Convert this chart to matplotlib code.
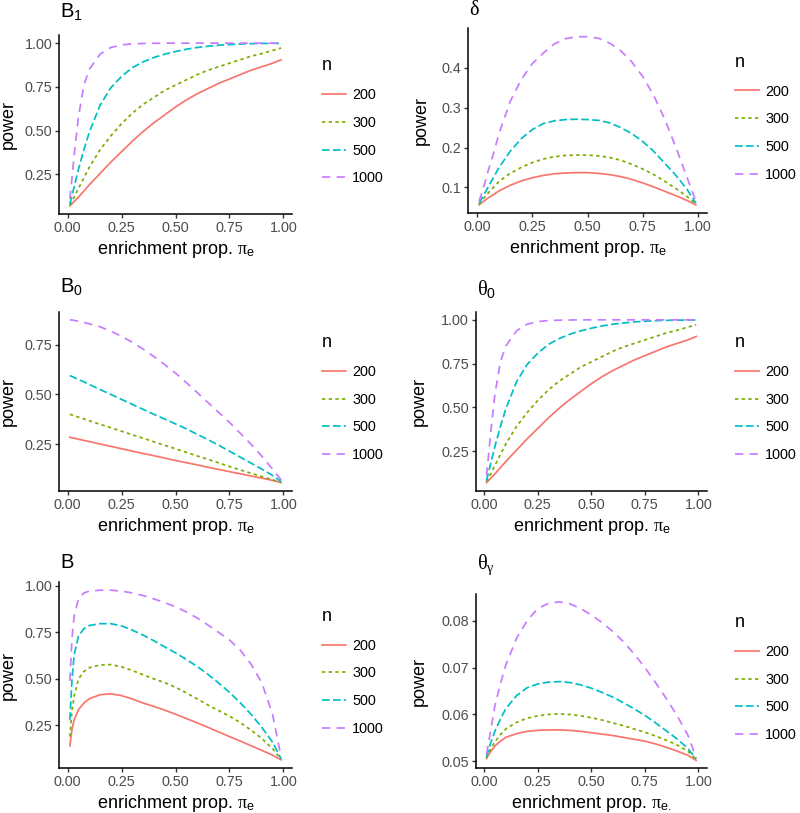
import matplotlib.pyplot as plt
from matplotlib.ticker import FormatStrFormatter

plt.rcParams['font.family'] = ['Liberation Sans', 'DejaVu Sans']
plt.rcParams['mathtext.fontset'] = 'custom'
plt.rcParams['mathtext.rm'] = 'Liberation Sans'
plt.rcParams['mathtext.it'] = 'Liberation Serif'
plt.rcParams['mathtext.bf'] = 'Liberation Sans:bold'
plt.rcParams['lines.scale_dashes'] = False

# enrichment proportion grid (x values)
pi_e = [0.01, 0.02, 0.03, 0.05, 0.075, 0.1, 0.15, 0.2, 0.25, 0.3, 0.35, 0.4,
        0.45, 0.5, 0.55, 0.6, 0.65, 0.7, 0.75, 0.8, 0.85, 0.9, 0.95, 0.99]
n_levels = ['200', '300', '500', '1000']

# B1 (theta0 looks the same)
b1_200 = [0.07, 0.082, 0.095, 0.12, 0.155, 0.19, 0.255, 0.32, 0.38, 0.44, 0.495, 0.545,
          0.59, 0.635, 0.675, 0.71, 0.74, 0.77, 0.795, 0.82, 0.845, 0.865, 0.885, 0.905]
b1_300 = [0.075, 0.095, 0.12, 0.17, 0.23, 0.29, 0.39, 0.47, 0.54, 0.60, 0.65, 0.69,
          0.73, 0.76, 0.79, 0.82, 0.845, 0.865, 0.885, 0.905, 0.925, 0.94, 0.958, 0.972]
b1_500 = [0.08, 0.13, 0.18, 0.28, 0.39, 0.49, 0.645, 0.745, 0.81, 0.86, 0.893, 0.918,
          0.937, 0.952, 0.965, 0.975, 0.982, 0.988, 0.992, 0.995, 0.997, 0.998, 0.999, 0.999]
b1_1000 = [0.11, 0.23, 0.36, 0.58, 0.76, 0.85, 0.937, 0.975, 0.99, 0.996, 0.998, 0.999,
           1.0, 1.0, 1.0, 1.0, 1.0, 1.0, 1.0, 1.0, 1.0, 1.0, 1.0, 1.0]

# delta
d_200 = [0.056, 0.061, 0.065, 0.073, 0.082, 0.091, 0.105, 0.116, 0.124, 0.13, 0.134, 0.136,
         0.137, 0.137, 0.135, 0.132, 0.127, 0.12, 0.111, 0.101, 0.09, 0.079, 0.067, 0.056]
d_300 = [0.058, 0.065, 0.072, 0.085, 0.10, 0.115, 0.135, 0.15, 0.162, 0.171, 0.177, 0.18,
         0.181, 0.181, 0.179, 0.175, 0.168, 0.158, 0.146, 0.132, 0.115, 0.097, 0.077, 0.058]
d_500 = [0.06, 0.07, 0.08, 0.10, 0.125, 0.15, 0.19, 0.222, 0.245, 0.26, 0.267, 0.27,
         0.271, 0.27, 0.268, 0.262, 0.25, 0.235, 0.215, 0.19, 0.16, 0.13, 0.095, 0.06]
d_1000 = [0.065, 0.083, 0.10, 0.14, 0.185, 0.235, 0.315, 0.37, 0.41, 0.437, 0.46, 0.473,
          0.478, 0.478, 0.474, 0.462, 0.443, 0.415, 0.378, 0.33, 0.27, 0.2, 0.125, 0.065]

# B0
b0_200 = [0.285, 0.282, 0.28, 0.275, 0.269, 0.263, 0.251, 0.239, 0.227, 0.215, 0.203, 0.192,
          0.18, 0.168, 0.157, 0.146, 0.134, 0.123, 0.112, 0.101, 0.09, 0.079, 0.068, 0.057]
b0_300 = [0.40, 0.397, 0.393, 0.386, 0.377, 0.368, 0.35, 0.333, 0.315, 0.297, 0.28, 0.262,
          0.244, 0.227, 0.209, 0.191, 0.174, 0.156, 0.138, 0.121, 0.104, 0.087, 0.071, 0.058]
b0_500 = [0.595, 0.59, 0.585, 0.575, 0.563, 0.55, 0.525, 0.50, 0.475, 0.45, 0.425, 0.40,
          0.376, 0.352, 0.327, 0.30, 0.273, 0.245, 0.215, 0.185, 0.155, 0.125, 0.093, 0.062]
b0_1000 = [0.875, 0.874, 0.872, 0.868, 0.862, 0.855, 0.84, 0.818, 0.792, 0.762, 0.728, 0.69,
           0.65, 0.607, 0.56, 0.51, 0.46, 0.41, 0.36, 0.305, 0.25, 0.19, 0.125, 0.07]

# B
b_200 = [0.14, 0.23, 0.28, 0.335, 0.37, 0.393, 0.415, 0.42, 0.41, 0.392, 0.37, 0.352,
         0.332, 0.31, 0.287, 0.264, 0.24, 0.215, 0.19, 0.166, 0.141, 0.116, 0.09, 0.065]
b_300 = [0.19, 0.33, 0.41, 0.50, 0.54, 0.56, 0.575, 0.577, 0.565, 0.545, 0.522, 0.50,
         0.48, 0.455, 0.425, 0.393, 0.36, 0.33, 0.30, 0.265, 0.225, 0.18, 0.125, 0.068]
b_500 = [0.28, 0.50, 0.63, 0.73, 0.77, 0.787, 0.797, 0.797, 0.785, 0.762, 0.735, 0.705,
         0.672, 0.64, 0.605, 0.567, 0.525, 0.478, 0.428, 0.372, 0.31, 0.24, 0.16, 0.07]
b_1000 = [0.49, 0.72, 0.84, 0.93, 0.962, 0.972, 0.977, 0.977, 0.972, 0.962, 0.948, 0.93,
          0.91, 0.888, 0.86, 0.828, 0.79, 0.75, 0.71, 0.655, 0.58, 0.48, 0.31, 0.08]

# theta_gamma
tg_200 = [0.0506, 0.0514, 0.0521, 0.0533, 0.0543, 0.0551, 0.0559, 0.0564, 0.0566, 0.0567, 0.0567, 0.0566,
          0.0564, 0.0561, 0.0558, 0.0555, 0.0551, 0.0547, 0.0543, 0.0537, 0.053, 0.0522, 0.0513, 0.0502]
tg_300 = [0.0507, 0.0517, 0.0527, 0.0542, 0.0557, 0.0569, 0.0583, 0.0592, 0.0597, 0.06, 0.0601, 0.06,
          0.0597, 0.0593, 0.0588, 0.0582, 0.0576, 0.0569, 0.0562, 0.0554, 0.0545, 0.0535, 0.0522, 0.0504]
tg_500 = [0.0509, 0.0525, 0.054, 0.0565, 0.059, 0.0612, 0.064, 0.0657, 0.0665, 0.0669, 0.067, 0.0668,
          0.0663, 0.0656, 0.0647, 0.0637, 0.0625, 0.0612, 0.0598, 0.0582, 0.0565, 0.0548, 0.0528, 0.0505]
tg_1000 = [0.0515, 0.054, 0.0567, 0.062, 0.0665, 0.0705, 0.0762, 0.080, 0.0826, 0.0837, 0.084, 0.0836,
           0.0826, 0.0812, 0.0796, 0.0777, 0.0755, 0.0729, 0.070, 0.0668, 0.0634, 0.0598, 0.0557, 0.0507]

colors = ['#F8766D', '#7CAE00', '#00BFC4', '#C77CFF']
dash_styles = [None, (2.4, 2.4), (5.5, 2.4), (6.0, 4.5)]

W, H = 800, 813
fig = plt.figure(figsize=(W / 100, H / 100), dpi=100)

xlab = r'enrichment prop. $\pi_{\mathrm{e}}$'
# title, series, yticks, fmt, (left, top, right, bottom) px, title baseline, ylabel x, legend x
panels = [
    ('B$_1$', [b1_200, b1_300, b1_500, b1_1000], [0.25, 0.5, 0.75, 1.0], '%.2f',
     (59.3, 35, 291.7, 214), 17, 8, 322, xlab),
    (r'$\delta$', [d_200, d_300, d_500, d_1000], [0.1, 0.2, 0.3, 0.4], '%.1f',
     (468.3, 28.3, 706.7, 213.3), 15, 421, 735, xlab),
    ('B$_0$', [b0_200, b0_300, b0_500, b0_1000], [0.25, 0.5, 0.75], '%.2f',
     (59.3, 311.7, 291.7, 490.7), 292, 8, 322, xlab),
    (r'$\theta_0$', [b1_200, b1_300, b1_500, b1_1000], [0.25, 0.5, 0.75, 1.0], '%.2f',
     (476, 311.7, 706.7, 490.7), 295, 419, 735, xlab),
    ('B', [b_200, b_300, b_500, b_1000], [0.25, 0.5, 0.75, 1.0], '%.2f',
     (59.3, 581.7, 291.7, 768.3), 568, 8, 322, xlab),
    (r'$\theta_\gamma$', [tg_200, tg_300, tg_500, tg_1000], [0.05, 0.06, 0.07, 0.08], '%.2f',
     (476, 594, 706.7, 768.3), 569, 419, 735, r'enrichment prop. $\pi_{\mathrm{e.}}$'),
]

for title, series, yticks, fmt, (l, t, r, b), ty, ylx, lgx, xl in panels:
    ax = fig.add_axes([l / W, 1 - b / H, (r - l) / W, (b - t) / H])
    handles = []
    for vals, col, ds, lab in zip(series, colors, dash_styles, n_levels):
        line, = ax.plot(pi_e, vals, color=col, lw=1.25, label=lab)
        if ds is not None:
            line.set_dashes(ds)
        handles.append(line)
    lo = min(min(s) for s in series)
    hi = max(max(s) for s in series)
    pad = 0.05 * (hi - lo)
    ax.set_ylim(lo - pad, hi + pad)
    ax.set_xlim(pi_e[0] - 0.05 * (pi_e[-1] - pi_e[0]), pi_e[-1] + 0.05 * (pi_e[-1] - pi_e[0]))
    ax.set_xticks([0, 0.25, 0.5, 0.75, 1.0])
    ax.set_yticks(yticks)
    ax.xaxis.set_major_formatter(FormatStrFormatter('%.2f'))
    ax.yaxis.set_major_formatter(FormatStrFormatter(fmt))
    for side in ['top', 'right']:
        ax.spines[side].set_visible(False)
    for side in ['left', 'bottom']:
        ax.spines[side].set_linewidth(1.1)
    ax.tick_params(length=2.9, width=1.0, color='#333333', labelsize=10.4,
                   labelcolor='#4D4D4D', pad=2.2)

    fig.text((l + 1) / W, 1 - ty / H, title, fontsize=14.5, ha='left', va='baseline')
    fig.text(ylx / W, 1 - (t + b) / 2 / H, 'power', fontsize=13, rotation=90,
             ha='center', va='center')
    fig.text((l + r) / 2 / W, 1 - (b + 40) / H, xl, fontsize=13, ha='center', va='baseline')

    ctr = (t + b) / 2
    ax.legend(handles, n_levels, title='n', loc='upper left',
              bbox_to_anchor=(lgx / W, 1 - (ctr - 67) / H), bbox_transform=fig.transFigure,
              frameon=False, borderpad=0, borderaxespad=0, handlelength=1.65,
              handletextpad=0.45, labelspacing=0.95, fontsize=10.4, title_fontsize=13,
              alignment='left')

fig.savefig('out.png', dpi=100, facecolor='white')
